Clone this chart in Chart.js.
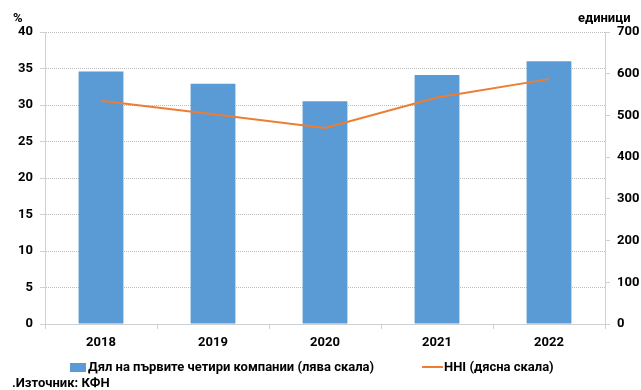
<!DOCTYPE html>
<html lang="bg">
<head>
    <meta charset="UTF-8">
    <title>Дял на първите четири компании и HHI</title>
    <script src="https://cdn.jsdelivr.net/npm/chart.js"></script>
    <style>
        body { margin: 0; background: #fff; }
    </style>
</head>
<body>
    <canvas id="myChart" width="641" height="390"></canvas>

    <script>
        const years = ['2018', '2019', '2020', '2021', '2022'];
        const shareTop4 = [34.6, 32.9, 30.5, 34.1, 36.0];   // % (лява скала)
        const hhi = [535, 503, 470, 543, 587];               // единици (дясна скала)

        const FONT = 'Roboto';
        const blue = '#5b9bd5';
        const orange = '#ed7d31';
        const axisGray = '#d0d0d0';

        // texts around the plot: units, legend, source
        const extras = {
            id: 'extras',
            afterDraw(chart) {
                const ctx = chart.ctx;
                ctx.save();
                ctx.fillStyle = '#000';
                ctx.font = 'bold 13px ' + FONT;
                ctx.textBaseline = 'middle';
                ctx.textAlign = 'left';
                ctx.fillText('%', 13, 19);
                ctx.fillText('единици', 578, 19);

                // legend
                ctx.fillStyle = blue;
                ctx.fillRect(70, 363, 16, 9);
                ctx.fillStyle = '#000';
                ctx.fillText('Дял на първите четири компании (лява скала)', 88, 368);
                ctx.strokeStyle = orange;
                ctx.lineWidth = 2;
                ctx.beginPath();
                ctx.moveTo(422, 367);
                ctx.lineTo(443, 367);
                ctx.stroke();
                ctx.fillText('HHI (дясна скала)', 444, 368);

                ctx.fillText('.Източник: КФН', 12, 384);
                ctx.restore();
            }
        };

        const tickFont = { family: FONT, size: 13, weight: 'bold' };

        const ctx = document.getElementById('myChart').getContext('2d');
        const myChart = new Chart(ctx, {
            type: 'bar',
            data: {
                labels: years,
                datasets: [{
                    type: 'line',
                    label: 'HHI (дясна скала)',
                    data: hhi,
                    yAxisID: 'y1',
                    borderColor: orange,
                    borderWidth: 2,
                    pointRadius: 0,
                    tension: 0,
                    order: 0
                }, {
                    label: 'Дял на първите четири компании (лява скала)',
                    data: shareTop4,
                    yAxisID: 'y',
                    backgroundColor: blue,
                    borderWidth: 0,
                    categoryPercentage: 1,
                    barPercentage: 0.4,
                    order: 1
                }]
            },
            options: {
                responsive: false,
                animation: false,
                layout: { padding: { top: 32, left: 0, right: 0, bottom: 0 } },
                plugins: {
                    legend: { display: false },
                    tooltip: { enabled: false }
                },
                scales: {
                    x: {
                        grid: {
                            offset: true,
                            drawOnChartArea: false,
                            tickLength: 5,
                            color: axisGray
                        },
                        border: { color: axisGray, width: 1 },
                        ticks: { padding: 6, color: '#000', font: tickFont },
                        afterFit(scale) { scale.height = 66; }
                    },
                    y: {
                        position: 'left',
                        min: 0,
                        max: 40,
                        ticks: { stepSize: 5, padding: 7, color: '#000', font: tickFont },
                        grid: {
                            color: '#bdbdbd',
                            tickColor: axisGray,
                            tickLength: 5
                        },
                        border: { color: axisGray, width: 1, dash: [1, 1] },
                        afterFit(scale) { scale.width = 45; }
                    },
                    y1: {
                        position: 'right',
                        min: 0,
                        max: 700,
                        ticks: { stepSize: 100, padding: 7, color: '#000', font: tickFont },
                        grid: {
                            drawOnChartArea: false,
                            color: axisGray,
                            tickLength: 5
                        },
                        border: { color: axisGray, width: 1 },
                        afterFit(scale) { scale.width = 36; }
                    }
                }
            },
            plugins: [extras]
        });
    </script>
</body>
</html>
